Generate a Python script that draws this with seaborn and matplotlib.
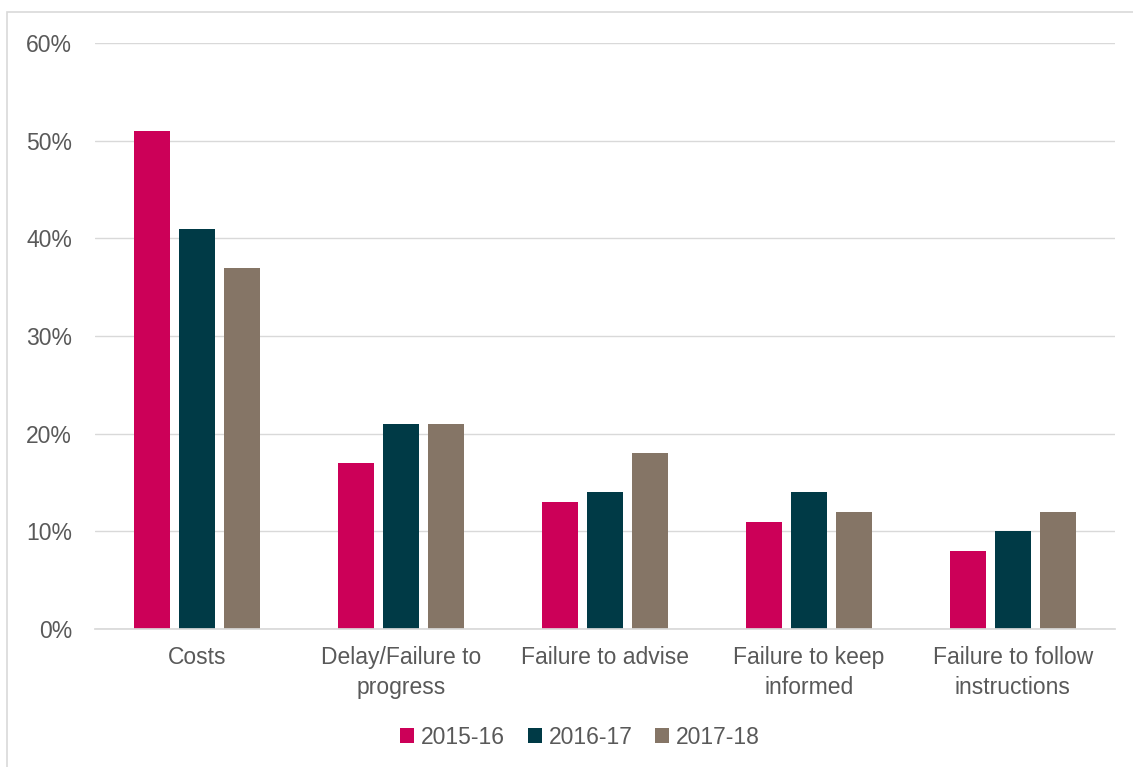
import pandas as pd
import matplotlib.pyplot as plt
import seaborn as sns
from matplotlib.patches import Rectangle
from matplotlib.ticker import FuncFormatter

categories = ['Costs', 'Delay/Failure to\nprogress', 'Failure to advise',
              'Failure to keep\ninformed', 'Failure to follow\ninstructions']
years = ['2015-16', '2016-17', '2017-18']
v_2015 = [51, 17, 13, 11, 8]
v_2016 = [41, 21, 14, 14, 10]
v_2017 = [37, 21, 18, 12, 12]

df = pd.DataFrame({
    'category': categories * 3,
    'year': [y for y in years for _ in categories],
    'value': v_2015 + v_2016 + v_2017,
})

sns.set_theme(style='white')
plt.rcParams['font.family'] = ['Liberation Sans', 'DejaVu Sans']

fig = plt.figure(figsize=(11.33, 7.67), dpi=100)
ax = fig.add_axes([0.0838, 0.18, 0.9002, 0.764])

palette = ['#CC0058', '#003A46', '#857566']
sns.barplot(data=df, x='category', y='value', hue='year', palette=palette,
            width=0.66, gap=0.2, saturation=1, linewidth=0, ax=ax, legend=True)

ax.set_xlim(-0.5, 4.5)
ax.set_ylim(0, 60)
ax.set_yticks(range(0, 61, 10))
ax.yaxis.set_major_formatter(FuncFormatter(lambda v, p: f'{v:.0f}%'))
ax.grid(axis='y', color='#d9d9d9', linewidth=1)
ax.set_axisbelow(True)
for s in ['top', 'right', 'left']:
    ax.spines[s].set_visible(False)
ax.spines['bottom'].set_color('#d9d9d9')
ax.tick_params(axis='y', length=0, pad=16.5, labelsize=16.5, labelcolor='#595959')
ax.tick_params(axis='x', length=0, pad=12.5, labelsize=16.5, labelcolor='#595959')
for t in ax.get_xticklabels():
    t.set_linespacing(1.35)
ax.set_xlabel('')
ax.set_ylabel('')

ax.legend(loc='center', bbox_to_anchor=(580 / 1133, 1 - 737 / 767), bbox_transform=fig.transFigure,
          ncol=3, frameon=False, fontsize=16.5, labelcolor='#595959',
          handlelength=0.6, handleheight=0.6, handletextpad=0.3, columnspacing=1.0)

# chart border (right and bottom run off the image)
fig.patches.append(Rectangle((7 / 1133, -0.1), 1.2, 1 - 12 / 767 + 0.1,
                             transform=fig.transFigure, fill=False,
                             edgecolor='#d9d9d9', linewidth=1.2))

fig.savefig('out.png', dpi=100)
